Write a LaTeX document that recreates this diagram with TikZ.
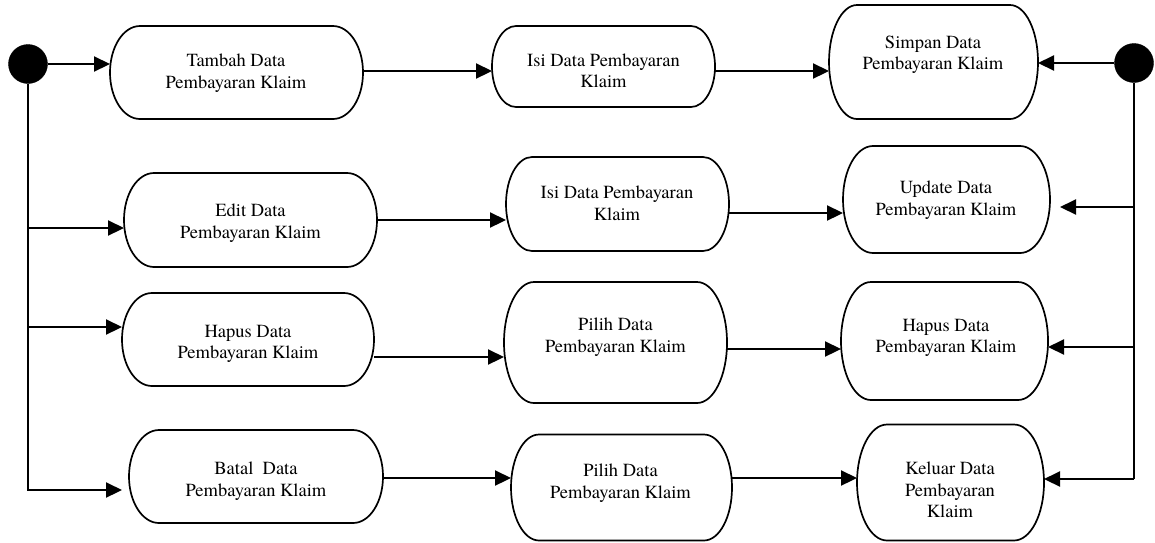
\documentclass[tikz,border=0pt]{standalone}
\usepackage{fontspec}
\setmainfont{texgyretermes}[Extension=.otf,UprightFont=*-regular,BoldFont=*-bold,ItalicFont=*-italic,BoldItalicFont=*-bolditalic]
\usetikzlibrary{arrows.meta,calc}
\tikzset{
  box/.style={draw=none,inner sep=0pt,outer sep=0pt},
  pillline/.style={line width=1.7pt,line join=round},
  lbl/.style={align=center,inner sep=0pt,font=\fontsize{18.5}{21.5}\selectfont},
  dot/.style={circle,fill=black,draw=black,inner sep=0pt,minimum size=39pt},
  conn/.style={line width=2.2pt,-{Triangle[length=16pt,width=15pt]}}
}
\newcommand\pillbox[2][28pt]{%
  \draw[pillline] let \p1=(#2.north west), \p2=(#2.south east), \n1={(\y1-\y2)/2} in
    (\x1+#1,\y1) -- (\x2-#1,\y1) arc[start angle=90,end angle=-90,x radius=#1,y radius=\n1]
    -- (\x1+#1,\y2) arc[start angle=270,end angle=90,x radius=#1,y radius=\n1] -- cycle;}
\begin{document}
\begin{tikzpicture}[x=1pt,y=1pt]
\useasboundingbox (0,0) rectangle (1155,-542);
% start / end
\node[dot] (start) at (28,-64) {};
\node[dot] (end) at (1134,-63) {};
% row 1
\node[box,minimum width=253pt,minimum height=93pt] (tambah) at (236.5,-72.5) {};
\node[box,minimum width=223pt,minimum height=81pt] (isi1) at (603.5,-66.5) {};
\node[box,minimum width=209pt,minimum height=114pt] (simpan) at (933.5,-62) {};
% row 2
\node[box,minimum width=253pt,minimum height=94pt] (edit) at (250.5,-220) {};
\node[box,minimum width=223pt,minimum height=94pt] (isi2) at (617.5,-204) {};
\node[box,minimum width=207pt,minimum height=107pt] (update) at (946.5,-199.5) {};
% row 3
\node[box,minimum width=252pt,minimum height=93pt] (hapus1) at (248,-339.5) {};
\node[box,minimum width=223pt,minimum height=121pt] (pilih1) at (615.5,-342.5) {};
\node[box,minimum width=207pt,minimum height=118pt] (hapus2) at (944.5,-341) {};
% row 4
\node[box,minimum width=254pt,minimum height=93pt] (batal) at (256,-476.5) {};
\node[box,minimum width=221pt,minimum height=106pt] (pilih2) at (621.5,-487.5) {};
\node[box,minimum width=187pt,minimum height=116pt] (keluar) at (950.5,-482.5) {};
% outlines
\pillbox[30pt]{tambah}
\pillbox[24pt]{isi1}
\pillbox[28pt]{simpan}
\pillbox[30pt]{edit}
\pillbox[26pt]{isi2}
\pillbox[30pt]{update}
\pillbox[30pt]{hapus1}
\pillbox[30pt]{pilih1}
\pillbox[30pt]{hapus2}
\pillbox[30pt]{batal}
\pillbox[28pt]{pilih2}
\pillbox[30pt]{keluar}
% labels
\node[lbl] (tambah-t) at (236,-73) {Tambah Data\\Pembayaran Klaim};
\node[lbl] (isi1-t) at (603.5,-71) {Isi Data Pembayaran\\Klaim};
\node[lbl] (simpan-t) at (933,-55) {Simpan Data\\Pembayaran Klaim};
\node[lbl] (edit-t) at (250.5,-223) {Edit Data\\Pembayaran Klaim};
\node[lbl] (isi2-t) at (617,-203.5) {Isi Data Pembayaran\\Klaim};
\node[lbl] (update-t) at (946,-200) {Update Data\\Pembayaran Klaim};
\node[lbl] (hapus1-t) at (248,-344) {Hapus Data\\Pembayaran Klaim};
\node[lbl] (pilih1-t) at (615.5,-337) {Pilih Data\\Pembayaran Klaim};
\node[lbl] (hapus2-t) at (946,-338) {Hapus Data\\Pembayaran Klaim};
\node[lbl] (batal-t) at (256,-481) {Batal\ \ Data\\Pembayaran Klaim};
\node[lbl] (pilih2-t) at (620.5,-483) {Pilih Data\\Pembayaran Klaim};
\node[lbl] (keluar-t) at (950,-490) {Keluar Data\\Pembayaran\\Klaim};
% level coordinates
\coordinate (y1) at (0,-71);
\coordinate (y2in) at (0,-228);
\coordinate (y2) at (0,-220);
\coordinate (y2b) at (0,-213);
\coordinate (y2r) at (0,-207);
\coordinate (y3in) at (0,-327);
\coordinate (y3a) at (0,-357);
\coordinate (y3b) at (0,-349);
\coordinate (y3r) at (0,-347);
\coordinate (y4in) at (0,-490);
\coordinate (y4) at (0,-478);
\coordinate (y4r) at (0,-479);
% left side
\draw[conn] (start.east) -- (start.east -| tambah.west);
\draw[conn,shorten >=7pt] (start.south) |- (batal.west |- y4in);
\draw[conn] (start.south |- y2in) -- (edit.west |- y2in);
\draw[conn] (start.south |- y3in) -- (hapus1.west |- y3in);
% right side
\draw[conn] (end.west) -- (end.west -| simpan.east);
\draw[line width=2.2pt] (end.south) -- (end.south |- y4r);
\draw[conn,shorten >=10pt] (end.south |- y2r) -- (update.east |- y2r);
\draw[conn] (end.south |- y3r) -- (hapus2.east |- y3r);
\draw[conn] (end.south |- y4r) -- (keluar.east |- y4r);
% flows
\draw[conn] (tambah.east |- y1) -- (isi1.west |- y1);
\draw[conn] (isi1.east |- y1) -- (simpan.west |- y1);
\draw[conn] (edit.east |- y2) -- (isi2.west |- y2);
\draw[conn] (isi2.east |- y2b) -- (update.west |- y2b);
\draw[conn] (hapus1.east |- y3a) -- (pilih1.west |- y3a);
\draw[conn] (pilih1.east |- y3b) -- (hapus2.west |- y3b);
\draw[conn] (batal.east |- y4) -- (pilih2.west |- y4);
\draw[conn] (pilih2.east |- y4) -- (keluar.west |- y4);
\end{tikzpicture}
\end{document}
